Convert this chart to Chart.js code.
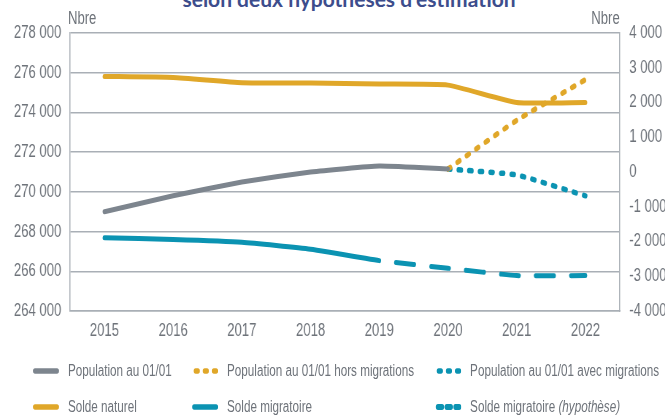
<!DOCTYPE html>
<html>
<head>
<meta charset="utf-8">
<script src="https://cdn.jsdelivr.net/npm/chart.js@4/dist/chart.umd.min.js"></script>
<style>
  html, body { margin: 0; padding: 0; background: #fff; overflow: hidden; }
  body { width: 665px; height: 417px; position: relative; }
  #title {
    position: absolute; left: 0; width: 698px; top: -12px; text-align: center;
    font: bold 21px/21px Lato, sans-serif; color: #3d4d8c; white-space: nowrap;
  }
  /* the reference text is very condensed: draw everything wider, then squeeze it */
  #wrap {
    position: absolute; left: 0; top: 0; width: 911px; height: 417px;
    transform: scaleX(0.73); transform-origin: 0 0;
    font-family: "Liberation Sans", Arial, sans-serif; color: #6e737a;
  }
  #box { position: absolute; left: 0; top: 0; width: 911px; height: 417px; }
  .unit { position: absolute; top: 8px; font-size: 18px; }
  .leg { position: absolute; font-size: 16px; white-space: nowrap; display: flex; align-items: center; }
  .leg svg { margin-right: 12px; }
</style>
</head>
<body>
<div id="title">selon deux hypothèses d'estimation</div>
<div id="wrap">
  <div id="box"><canvas id="myChart"></canvas></div>
  <div class="unit" style="left:93px">Nbre</div>
  <div class="unit" style="right:62px">Nbre</div>
  <div id="legend"></div>
</div>
<script>
const years = ['2015', '2016', '2017', '2018', '2019', '2020', '2021', '2022'];

// left axis (population)
const population = [269000, 269800, 270500, 271000, 271300, 271150, null, null];
const popSansMigr = [null, null, null, null, null, 271150, 273600, 275650];
const popAvecMigr = [null, null, null, null, null, 271150, 270850, 269800];

// right axis (soldes)
const soldeNaturel = [2750, 2720, 2570, 2560, 2530, 2500, 2000, 2000];
const soldeMigr = [-1890, -1940, -2020, -2220, -2550, null, null, null];
const soldeMigrHyp = [null, null, null, null, -2550, -2770, -2980, -2980];

const leftTicks = { min: 264000, max: 278000, step: 2000 };
const rightTicks = { min: -4000, max: 4000, step: 1000 };

const GREY = '#7d858e';
const GOLD = '#e0a729';
const TEAL = '#0b93b2';
const TXT = '#6e737a';
const GRID = '#a9afb6';
const FONT = 'Liberation Sans';

const fmt = function (v) {
    return String(v).replace(/\B(?=(\d{3})+(?!\d))/g, ' ');
};

const line = function (label, data, color, axis, style) {
    let ds = {
        label: label,
        data: data,
        borderColor: color,
        backgroundColor: color,
        borderWidth: 5,
        borderCapStyle: 'round',
        borderJoinStyle: 'round',
        pointRadius: 0,
        tension: 0.15,
        yAxisID: axis,
        spanGaps: false,
        legendStyle: style
    };
    if (style === 'dot') {
        ds.borderDash = [3.5, 11];
        ds.borderWidth = 5.5;
    }
    if (style === 'dash') {
        ds.borderDash = [25, 23];
        ds.borderDashOffset = 25;
    }
    return ds;
};

const datasets = [
    line('Population au 01/01', population, GREY, 'yL', 'solid'),
    line('Population au 01/01 hors migrations', popSansMigr, GOLD, 'yL', 'dot'),
    line('Population au 01/01 avec migrations', popAvecMigr, TEAL, 'yL', 'dot'),
    line('Solde naturel', soldeNaturel, GOLD, 'yR', 'solid'),
    line('Solde migratoire', soldeMigr, TEAL, 'yR', 'solid'),
    line('Solde migratoire (hypothèse)', soldeMigrHyp, TEAL, 'yR', 'dash')
];

const chart = new Chart(document.getElementById('myChart').getContext('2d'), {
    type: 'line',
    data: { labels: years, datasets: datasets },
    options: {
        responsive: true,
        maintainAspectRatio: false,
        animation: false,
        events: [],
        layout: { padding: { top: 33, bottom: 76, left: 0, right: 0 } },
        plugins: { legend: { display: false }, tooltip: { enabled: false } },
        scales: {
            x: {
                offset: true,
                grid: { display: false, drawTicks: false },
                border: { display: true, color: GRID, width: 1.5 },
                ticks: { color: TXT, font: { family: FONT, size: 18 }, padding: 9, maxRotation: 0 },
                afterFit: function (s) { s.height = 30; }
            },
            yL: {
                position: 'left',
                min: leftTicks.min, max: leftTicks.max,
                grid: { color: GRID, lineWidth: 1.5, drawTicks: false },
                border: { display: true, color: GRID, width: 1.5 },
                ticks: { stepSize: leftTicks.step, color: TXT, padding: 12, font: { family: FONT, size: 18 }, callback: fmt },
                afterFit: function (s) { s.width = 96; }
            },
            yR: {
                position: 'right',
                min: rightTicks.min, max: rightTicks.max,
                grid: { display: false, drawTicks: false },
                border: { display: true, color: GRID, width: 1.5 },
                ticks: { stepSize: rightTicks.step, color: TXT, padding: 13, font: { family: FONT, size: 18 }, callback: fmt },
                afterFit: function (s) { s.width = 62; }
            }
        }
    }
});

// html legend, three columns on two rows
const legendPos = [
    [45, 371], [263, 371], [596, 371],
    [45, 407], [263, 407], [596, 407]
];

const sample = function (ds) {
    let c = ds.borderColor;
    let svg = '<svg width="36" height="10" viewBox="0 0 36 10">';
    if (ds.legendStyle === 'solid') {
        svg += '<line x1="3" y1="5" x2="33" y2="5" stroke="' + c + '" stroke-width="5.5" stroke-linecap="round"/>';
    } else if (ds.legendStyle === 'dot') {
        svg += '<line x1="5" y1="5" x2="33" y2="5" stroke="' + c + '" stroke-width="5.5" stroke-linecap="round" stroke-dasharray="3 9.5"/>';
    } else {
        svg += '<line x1="4" y1="5" x2="33" y2="5" stroke="' + c + '" stroke-width="6" stroke-linecap="round" stroke-dasharray="5.5 6.5"/>';
    }
    return svg + '</svg>';
};

let html = '';
datasets.forEach(function (ds, k) {
    let text = ds.label.replace(/\((.*)\)/, '<i>($1)</i>');
    html += '<div class="leg" style="left:' + legendPos[k][0] + 'px;top:' + (legendPos[k][1] - 10) + 'px;height:20px">' +
        sample(ds) + '<span>' + text + '</span></div>';
});
document.getElementById('legend').innerHTML = html;
</script>
</body>
</html>
